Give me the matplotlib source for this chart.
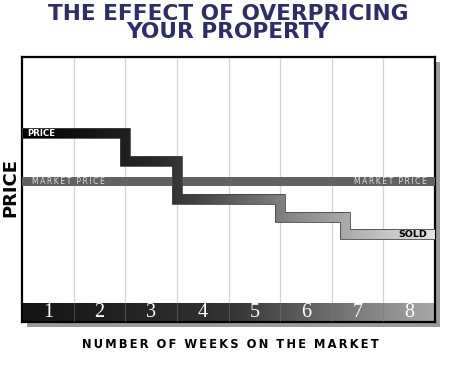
import matplotlib.pyplot as plt
import numpy as np
from matplotlib.colors import LinearSegmentedColormap
from matplotlib.patches import Polygon, Rectangle

# chart values
weeks = [1, 2, 3, 4, 5, 6, 7, 8]
step_x = [0, 2, 3, 5, 6.25, 8]           # where the asking price changes (weeks)
price_levels = [71.3, 60.9, 46.4, 39.6, 33.2]
market_price = 53.0
title = 'THE EFFECT OF OVERPRICING\nYOUR PROPERTY'
xlabel = 'NUMBER OF WEEKS ON THE MARKET'
ylabel = 'PRICE'


def spaced(s, gap='\u2009', word_gap='  '):
    # letter-spaced caps, as in the original artwork
    return word_gap.join(gap.join(w) for w in s.split(' '))


W, H, DPI = 454, 371, 100
fig = plt.figure(figsize=(W / DPI, H / DPI), dpi=DPI)
fig.patch.set_facecolor('white')

# axes box in pixels
left, right, top, bottom = 22, 435, 57, 322
ax = fig.add_axes([left / W, (H - bottom) / H, (right - left) / W, (bottom - top) / H])
ax.set_xlim(0, 8)
ax.set_ylim(0, 100)
ax.set_xticks([])
ax.set_yticks([])
ax.set_facecolor('white')
for s in ax.spines.values():
    s.set_linewidth(1.6)
    s.set_color('black')
ax.set_zorder(2)

# drop shadow behind the box
shadow = Rectangle(((left + 5) / W, (H - bottom - 5) / H), (right - left) / W, (bottom - top) / H,
                   transform=fig.transFigure, facecolor='#9a9a9a', edgecolor='none', zorder=1)
fig.patches.append(shadow)

px_x = 8 / (right - left)
px_y = 100 / (bottom - top)
band_h = 5 * px_y
band_w = 5 * px_x
num_band = 19 * px_y

# vertical grid lines
for i in range(1, 8):
    ax.axvline(i, color='#d4d4d4', lw=0.9, zorder=1)

# week number band
band_cmap = LinearSegmentedColormap.from_list('band', ['#141414', '#333333', '#a8a8a8'])
grad = np.linspace(0, 1, 256).reshape(1, -1)
ax.imshow(grad, cmap=band_cmap, extent=[0, 8, 0, num_band], aspect='auto', zorder=2)
for i in range(1, 8):
    ax.plot([i, i], [0, num_band], color='#777777', lw=0.6, alpha=0.6, zorder=3)
for i, w in enumerate(weeks):
    ax.text(i + 0.5, num_band / 2, str(w), color='white', fontsize=14.5,
            family='Liberation Serif', ha='center', va='center', zorder=4)

# market price band
ax.fill_between([0, 8], market_price - 4.5 * px_y, market_price + 4.5 * px_y,
                color='#616161', lw=0, zorder=3)
mp = spaced('MARKET PRICE', gap='\u2009', word_gap='  ')
ax.text(0.19, market_price, mp, color='#dddddd', fontsize=5.6,
        ha='left', va='center', zorder=4)
ax.text(7.85, market_price, mp, color='#dddddd', fontsize=5.6,
        ha='right', va='center', zorder=4)

# stepped asking price band
upper = [(step_x[0], price_levels[0] + band_h)]
lower = [(step_x[0], price_levels[0] - band_h)]
for i in range(1, len(step_x) - 1):
    upper += [(step_x[i] + band_w, price_levels[i - 1] + band_h),
              (step_x[i] + band_w, price_levels[i] + band_h)]
    lower += [(step_x[i] - band_w, price_levels[i - 1] - band_h),
              (step_x[i] - band_w, price_levels[i] - band_h)]
upper.append((step_x[-1], price_levels[-1] + band_h))
lower.append((step_x[-1], price_levels[-1] - band_h))
poly = Polygon(upper + lower[::-1], closed=True, facecolor='none',
               edgecolor='#444444', lw=0.6, zorder=6)
ax.add_patch(poly)
step_cmap = LinearSegmentedColormap.from_list('step', ['#000000', '#2a2a2a', '#8a8a8a', '#e4e4e4'])
img = ax.imshow(grad, cmap=step_cmap, extent=[0, 8, 0, 100], aspect='auto', zorder=5)
img.set_clip_path(poly)

ax.text(0.1, price_levels[0], 'PRICE', color='white', fontsize=6.2, weight='bold',
        ha='left', va='center', zorder=7)
ax.text(7.85, price_levels[-1], 'SOLD', color='black', fontsize=6.8, weight='bold',
        ha='right', va='center', zorder=7)

# titles
fig.text(228 / W, 1 - 23 / H, title, color='#2e2d6b', fontsize=15.6, weight='bold',
         family='DejaVu Sans', ha='center', va='center', linespacing=0.86)
fig.text(10 / W, 1 - 188 / H, ylabel, rotation=90, fontsize=13, weight='bold',
         ha='center', va='center')
fig.text(230 / W, 1 - 344 / H, spaced(xlabel), fontsize=8.3,
         weight='bold', ha='center', va='center')

fig.savefig('out.png', dpi=DPI)
